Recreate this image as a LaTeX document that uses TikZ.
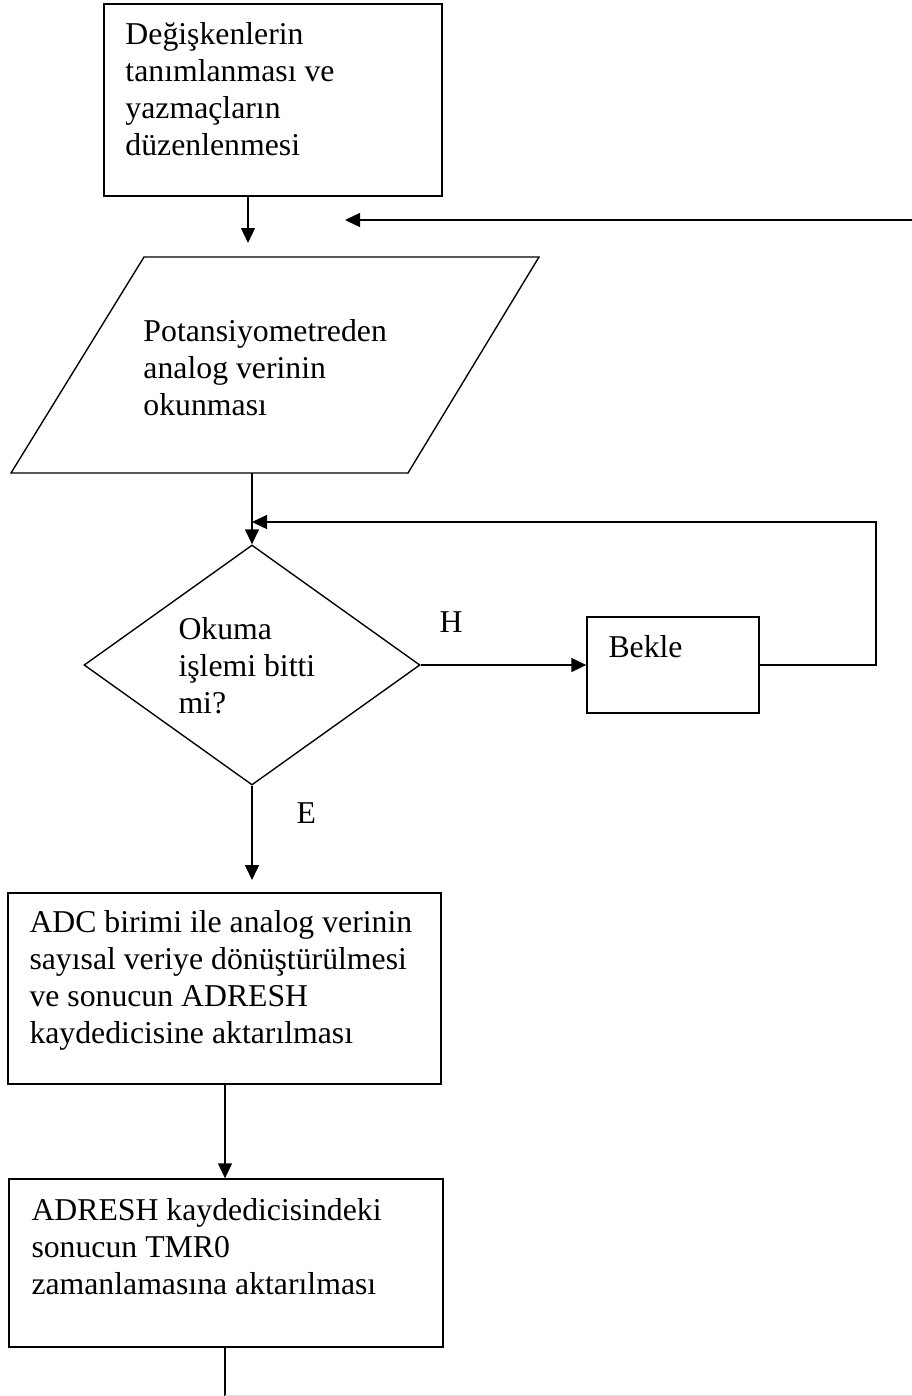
\documentclass[tikz,border=0pt]{standalone}
\usepackage{fontspec}
\setmainfont{Liberation Serif}
\usetikzlibrary{arrows.meta,shapes.geometric}

\tikzset{
  flow/.style={line width=0.55pt, draw=black},
  arr/.style={flow, -{Triangle[length=6pt,width=5.6pt]}},
  procbox/.style={flow, rectangle, inner sep=0pt},
  % multi-line texts are placed by the baseline of their last line
  txt/.style={anchor=base west, inner sep=0pt, align=left,
              font=\fontsize{12.7}{14.8}\selectfont},
}

\begin{document}
\begin{tikzpicture}[x=0.4pt, y=-0.4pt]
\useasboundingbox (0,0) rectangle (912,1396);

% process boxes
\node[procbox, minimum width=135.2pt, minimum height=76.8pt] (init) at (273,100) {};
\node[procbox, minimum width=68.8pt, minimum height=38.4pt] (wait) at (673,665) {};
\node[procbox, minimum width=173.2pt, minimum height=76.4pt] (adc) at (224.5,988.5) {};
\node[procbox, minimum width=173.6pt, minimum height=67.2pt] (tmr) at (226,1263) {};

% input parallelogram
\coordinate (inTL) at (144,257);
\coordinate (inTR) at (539,257);
\coordinate (inBR) at (408,473);
\coordinate (inBL) at (11,473);
\draw[flow] (inTL) -- (inTR) -- (inBR) -- (inBL) -- cycle;

% decision
\node[flow, diamond, inner sep=0pt, minimum width=134.4pt, minimum height=96pt] (dec) at (252,665) {};

% texts
\node[txt] (tInit) at (125,155) {Değişkenlerin\\tanımlanması ve\\yazmaçların\\düzenlenmesi};
\node[txt] (tIn) at (143,415) {Potansiyometreden\\analog verinin\\okunması};
\node[txt] (tDec) at (178,713) {Okuma\\işlemi bitti\\mi?};
\node[txt] (tWait) at (608,657) {Bekle};
\node[txt] (tAdc) at (29,1043) {ADC birimi ile analog verinin\\sayısal veriye dönüştürülmesi\\ve sonucun ADRESH\\kaydedicisine aktarılması};
\node[txt] (tTmr) at (31,1294) {ADRESH kaydedicisindeki\\sonucun TMR0\\zamanlamasına aktarılması};
\node[txt] (lblH) at (439,632) {H};
\node[txt] (lblE) at (296,823) {E};

% connector end points
\coordinate (a1) at (248,243);
\coordinate (backStart) at (912,220);
\coordinate (backEnd) at (345,220);
\coordinate (loopTR) at (876,522);
\coordinate (e1) at (252,880);
\coordinate (bot) at (225,1396);
\coordinate (edgeR) at (912,1395);

% connectors
\draw[arr] (init.south -| a1) -- (a1);
\draw[arr] (backStart) -- (backEnd);
\draw[arr] (inBL -| dec.north) -- (dec.north);
\draw[arr] (dec.east) -- (wait.west);
\draw[arr] (wait.east) -| (loopTR) -- (dec.north |- loopTR);
\draw[arr] (dec.south) -- (e1);
\draw[arr] (adc.south -| bot) -- (tmr.north -| bot);
\draw[flow] (tmr.south -| bot) -- (bot);
\draw[black!12, line width=0.4pt] (bot |- edgeR) -- (edgeR);
\end{tikzpicture}
\end{document}
